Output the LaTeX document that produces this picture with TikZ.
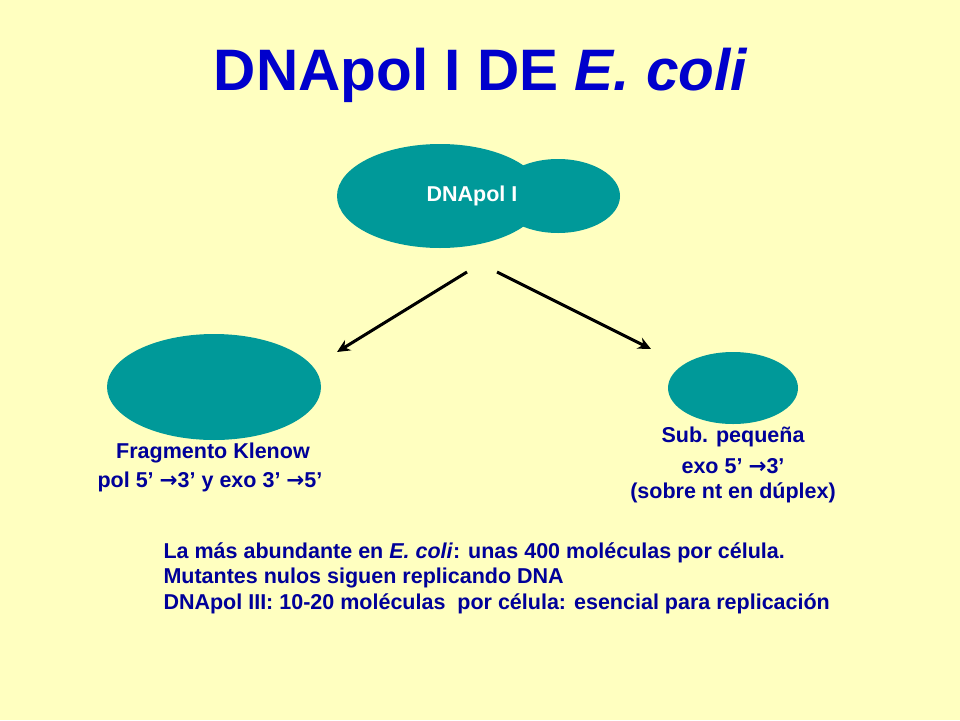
\documentclass[tikz,border=0pt]{standalone}
\usepackage{fontspec}
\setmainfont{Liberation Sans}
\newfontfamily\arrfont{DejaVu Sans}
\newcommand{\rarr}{{\arrfont\bfseries →}}
\usetikzlibrary{arrows.meta}
\definecolor{bg}{HTML}{FFFFC0}
\definecolor{teal2}{HTML}{009999}
\definecolor{ttl}{HTML}{0000CC}
\definecolor{txt}{HTML}{000099}
\begin{document}
\begin{tikzpicture}[x=1pt,y=-1pt,
  blob/.style={fill=teal2,draw=none},
  lbl/.style={text=txt,font=\bfseries\fontsize{21.5}{24}\selectfont,align=center},
  arr/.style={draw=black,line width=3pt,-{Stealth[length=13pt,width=12pt]}}]
\fill[bg] (0,0) rectangle (960,720);
\useasboundingbox (0,0) rectangle (960,720);
\node[text=ttl,font=\bfseries\fontsize{58.5}{64}\selectfont] (title) at (481,75) {DNApol I DE \textit{E. coli}};
\fill[blob] (558,196) ellipse [x radius=62,y radius=37];
\fill[blob] (440,196) ellipse [x radius=103,y radius=52];
\node[text=white,font=\bfseries\fontsize{21.5}{24}\selectfont] (dp) at (472,196) {DNApol I};
\fill[blob] (214,387) ellipse [x radius=107,y radius=53];
\fill[blob] (733,388) ellipse [x radius=65,y radius=36];
\coordinate (a1) at (467,272); \coordinate (b1) at (337,352);
\coordinate (a2) at (497,272); \coordinate (b2) at (651,349);
\draw[arr] (a1) -- (b1);
\draw[arr] (a2) -- (b2);
\node[lbl] (kl) at (213,453) {Fragmento Klenow};
\node[lbl] (kl2) at (210,482) {pol 5’ \rarr3’ y exo 3’ \rarr5’};
\node[lbl] (sp) at (733,437) {Sub. pequeña};
\node[lbl] (sp2) at (733,466) {exo 5’ \rarr3’};
\node[lbl] (sp3) at (733,493) {(sobre nt en dúplex)};
\node[lbl,anchor=west,align=left] (b1t) at (160,553) {La más abundante en \textit{E. coli}: unas 400 moléculas por célula.};
\node[lbl,anchor=west,align=left] (b2t) at (160,578) {Mutantes nulos siguen replicando DNA};
\node[lbl,anchor=west,align=left] (b3t) at (160,604) {DNApol III: 10-20 moléculas\ \ por célula: esencial para replicación};
\end{tikzpicture}
\end{document}
